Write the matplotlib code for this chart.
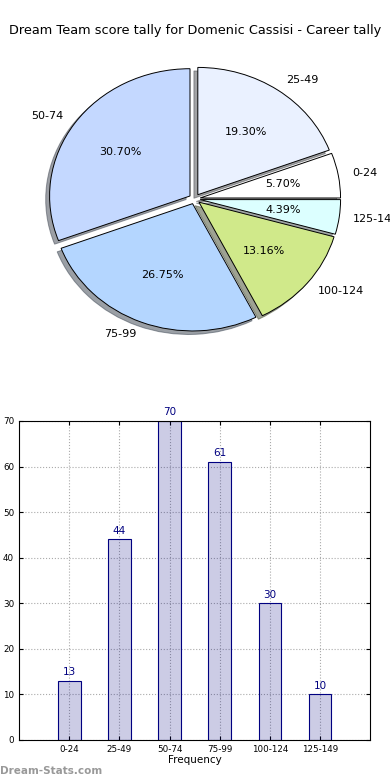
import matplotlib
matplotlib.use('Agg')
import matplotlib.pyplot as plt

# score ranges and how often each one came up
categories = ['0-24', '25-49', '50-74', '75-99', '100-124', '125-149']
counts = [13, 44, 70, 61, 30, 10]
pie_colors = ['#ffffff', '#eaf1ff', '#c4d8ff', '#b4d6ff', '#d0e98a', '#dcffff']


def main():
    fig = plt.figure(figsize=(3.9, 7.8), dpi=100)
    fig.text(0.5, 0.961, 'Dream Team score tally for Domenic Cassisi - Career tally',
             ha='center', va='center', fontsize=9.3)

    # Pie chart (not forced to a circle, like the old plot)
    ax1 = fig.add_axes([0.049, 0.541, 0.9, 0.408])
    ax1.pie(counts, labels=categories, colors=pie_colors, autopct='%1.2f%%',
            explode=[0.04] * len(counts), shadow=True, startangle=0,
            wedgeprops={'edgecolor': 'black', 'linewidth': 0.7},
            textprops={'fontsize': 8})
    ax1.set_aspect('auto')
    ax1.set_xlim(-1.25, 1.25)
    ax1.set_ylim(-1.25, 1.25)

    # Bar chart of the same counts
    ax2 = fig.add_axes([0.049, 0.0513, 0.9, 0.409])
    pos = list(range(len(counts)))
    bars = ax2.bar(pos, counts, width=0.45, align='center',
                   facecolor=(0, 0, 0.5, 0.2), edgecolor='navy', linewidth=0.8)
    for b, c in zip(bars, counts):
        ax2.text(b.get_x() + b.get_width() / 2, c + 0.8, str(c),
                 ha='center', va='bottom', color='navy', fontsize=7.5)
    ax2.set_xlim(-1, 6)
    ax2.set_ylim(0, 70)
    ax2.set_xticks(pos)
    ax2.set_xticklabels(categories)
    ax2.set_yticks(range(0, 71, 10))
    ax2.tick_params(labelsize=6.3, direction='in', top=True, right=True, length=3)
    ax2.grid(True, linestyle=':', color='#aaaaaa', linewidth=0.8)
    ax2.set_axisbelow(True)
    ax2.set_xlabel('Frequency', fontsize=7.5, labelpad=1)

    fig.text(0.0, 0.012, 'Dream-Stats.com', fontsize=7.5, color='#999999',
             fontweight='bold', ha='left', va='center')

    fig.savefig('out.png', dpi=100)


if __name__ == "__main__":
    main()
